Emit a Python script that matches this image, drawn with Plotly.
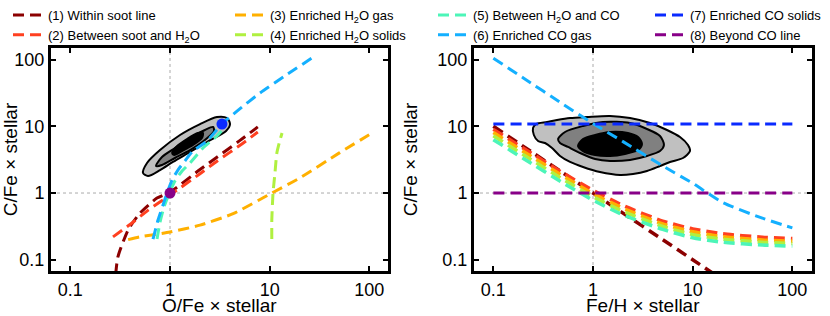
import plotly.graph_objects as go

# ---------------- data ----------------
TICK_VALS = [0.1, 1, 10, 100]
TICK_TEXT = ["0.1", "1", "10", "100"]
X_TITLES = ["O/Fe × stellar", "Fe/H × stellar"]
Y_TITLE = "C/Fe × stellar"

NAMES = ["(1) Within soot line", "(2) Between soot and H<sub>2</sub>O",
         "(3) Enriched H<sub>2</sub>O gas", "(4) Enriched H<sub>2</sub>O solids",
         "(5) Between H<sub>2</sub>O and CO", "(6) Enriched CO gas",
         "(7) Enriched CO solids", "(8) Beyond CO line"]
COLORS = ["#8B0000", "#FF4020", "#FFB000", "#B0F040",
          "#4CF5B8", "#14B0FF", "#0A2AFF", "#880088"]

# Left panel: O/Fe vs C/Fe
L1_x = [0.285, 0.30, 0.38, 0.50, 0.74, 1.0, 2.0, 3.0, 5.0, 7.6]
L1_y = [0.06, 0.11, 0.28, 0.50, 0.84, 1.03, 2.25, 3.5, 6.1, 9.8]
L2_x = [0.268, 0.4, 0.6, 1.0, 2.0, 3.0, 5.0, 7.6]
L2_y = [0.22, 0.34, 0.55, 0.93, 1.95, 3.05, 5.15, 8.2]
L3_x = [0.38, 0.5, 1.0, 2.0, 4.3, 10.5, 20, 50, 106]
L3_y = [0.20, 0.22, 0.26, 0.33, 0.49, 1.0, 1.68, 4.0, 7.9]
L4_x = [10.5, 10.5, 10.8, 11.3, 11.8, 12.7, 13.3]
L4_y = [0.204, 0.394, 1.0, 2.0, 3.98, 6.23, 7.94]
L5_x = [0.741, 0.794, 0.871, 0.977, 1.12, 1.32, 1.59, 2.14, 2.96, 3.48]
L5_y = [0.204, 0.367, 0.617, 0.966, 1.51, 2.14, 2.82, 4.73, 7.16, 9.44]
L6_x = [0.675, 0.758, 0.851, 0.933, 1.05, 1.20, 1.41, 1.70, 2.35, 3.32, 4.70, 8.0, 14.2, 26.6]
L6_y = [0.204, 0.394, 0.661, 1.0, 1.57, 2.21, 3.02, 4.26, 6.02, 10.8, 16.9, 31.6, 56.8, 106]
PT7 = (3.32, 10.8)
PT8 = (1.0, 1.0)

# Left panel contours
LO_x = [0.536, 0.588, 0.794, 1.26, 2.0, 2.96, 3.73, 4.0, 3.65, 2.35, 1.59, 1.07, 0.794, 0.601, 0.536]
LO_y = [2.0, 2.82, 4.41, 7.41, 10.8, 13.8, 13.3, 10.8, 8.5, 5.82, 4.12, 2.92, 2.21, 1.80, 2.0]
LM_x = [0.724, 0.831, 1.12, 1.59, 2.24, 2.70, 2.76, 2.24, 1.59, 1.12, 0.831, 0.724]
LM_y = [2.54, 3.47, 4.73, 6.68, 8.81, 9.77, 8.5, 6.23, 4.41, 3.35, 2.63, 2.54]
LI_x = [1.05, 1.18, 1.48, 1.91, 2.14, 2.09, 1.70, 1.32, 1.10, 1.05]
LI_y = [3.98, 5.07, 6.45, 7.94, 7.94, 6.68, 5.25, 4.26, 3.71, 3.98]

# Right panel: Fe/H vs C/Fe
FEH = [0.1, 0.2, 0.5, 1, 2, 5, 10, 20, 50, 100]
R1_x = [0.1, 0.2, 0.5, 1, 2, 5, 10, 20]
R1_y = [10, 5, 2, 1, 0.5, 0.2, 0.1, 0.05]
R2_y = [9.0, 4.7, 2.0, 1.1, 0.65, 0.38, 0.29, 0.245, 0.218, 0.208]
R3_y = [8.1, 4.2, 1.8, 0.98, 0.59, 0.345, 0.262, 0.222, 0.198, 0.19]
R4_y = [7.2, 3.75, 1.6, 0.88, 0.53, 0.315, 0.238, 0.203, 0.183, 0.175]
R5_y = [6.3, 3.3, 1.42, 0.78, 0.47, 0.285, 0.213, 0.183, 0.166, 0.16]
R6_y = [105, 53, 21.5, 11, 5.9, 2.55, 1.40, 0.72, 0.42, 0.30]
R7_y = [10.8, 10.8, 10.8, 10.8, 10.8, 10.8, 10.8, 10.8, 10.8, 10.8]
R8_y = [1, 1, 1, 1, 1, 1, 1, 1, 1, 1]

# Right panel contours
RO_x = [0.25, 0.268, 0.346, 0.435, 0.588, 0.871, 1.48, 2.35, 3.73, 5.52, 7.46, 8.97, 9.4, 8.0,
        5.92, 4.70, 3.48, 2.52, 1.87, 1.175, 0.794, 0.588, 0.467, 0.388, 0.330, 0.281, 0.255, 0.25]
RO_y = [9.4, 10.8, 11.6, 12.4, 13.3, 13.8, 14.3, 13.3, 11.2, 8.8, 6.91, 5.25, 4.26, 3.35,
        2.92, 2.54, 2.14, 1.93, 1.86, 2.06, 2.45, 2.92, 3.59, 4.73, 5.62, 6.02, 7.41, 9.4]
RM_x = [0.446, 0.524, 0.794, 1.26, 2.35, 3.48, 4.70, 5.15, 4.70, 3.48, 2.35, 1.48, 1.05, 0.741,
        0.561, 0.467, 0.446]
RM_y = [6.45, 8.22, 10.1, 11.6, 11.2, 9.11, 7.16, 5.25, 4.26, 3.59, 3.13, 3.02, 3.24, 3.98,
        4.9, 5.62, 6.45]
RI_x = [0.707, 0.794, 1.05, 1.48, 2.24, 2.83, 3.10, 2.83, 2.09, 1.48, 1.05, 0.794, 0.707]
RI_y = [5.07, 6.45, 7.41, 8.22, 7.94, 6.91, 5.43, 4.41, 3.85, 3.59, 3.71, 4.26, 5.07]

CONTOUR_FILLS = ["#C0C0C0", "#808080", "#000000"]

# ---------------- figure ----------------
FONT = "Liberation Sans, Arial, Helvetica, sans-serif"
DASH = "11px,6px"
fig = go.Figure()

for cx, cy, fc in [(LO_x, LO_y, CONTOUR_FILLS[0]), (LM_x, LM_y, CONTOUR_FILLS[1]), (LI_x, LI_y, CONTOUR_FILLS[2])]:
    fig.add_trace(go.Scatter(x=cx, y=cy, mode="lines", fill="toself", fillcolor=fc,
                             line=dict(color="black", width=2, shape="spline", smoothing=0.8),
                             showlegend=False, hoverinfo="skip", xaxis="x", yaxis="y"))
for cx, cy, fc in [(RO_x, RO_y, CONTOUR_FILLS[0]), (RM_x, RM_y, CONTOUR_FILLS[1]), (RI_x, RI_y, CONTOUR_FILLS[2])]:
    fig.add_trace(go.Scatter(x=cx, y=cy, mode="lines", fill="toself", fillcolor=fc,
                             line=dict(color="black", width=2, shape="spline", smoothing=0.8),
                             showlegend=False, hoverinfo="skip", xaxis="x2", yaxis="y2"))

legend_of = ["legend", "legend", "legend2", "legend2", "legend3", "legend3", "legend4", "legend4"]

left_series = [(L1_x, L1_y), (L2_x, L2_y), (L3_x, L3_y), (L4_x, L4_y), (L5_x, L5_y), (L6_x, L6_y)]
for i, (sx, sy) in enumerate(left_series):
    fig.add_trace(go.Scatter(x=sx, y=sy, mode="lines", name=NAMES[i],
                             line=dict(color=COLORS[i], width=3, dash=DASH, shape="spline", smoothing=0.6),
                             legend=legend_of[i], showlegend=True, xaxis="x", yaxis="y"))

fig.add_trace(go.Scatter(x=[PT7[0]], y=[PT7[1]], mode="markers", marker=dict(color=COLORS[6], size=11),
                         showlegend=False, xaxis="x", yaxis="y"))
fig.add_trace(go.Scatter(x=[PT8[0]], y=[PT8[1]], mode="markers", marker=dict(color=COLORS[7], size=11),
                         showlegend=False, xaxis="x", yaxis="y"))

right_series = [(R1_x, R1_y), (FEH, R2_y), (FEH, R3_y), (FEH, R4_y), (FEH, R5_y),
                (FEH, R6_y), (FEH, R7_y), (FEH, R8_y)]
for i, (sx, sy) in enumerate(right_series):
    show = i >= 6
    fig.add_trace(go.Scatter(x=sx, y=sy, mode="lines", name=NAMES[i],
                             line=dict(color=COLORS[i], width=3.5 if i < 5 else 3, dash=DASH,
                                       shape="spline", smoothing=0.6),
                             legend=legend_of[i], showlegend=show, xaxis="x2", yaxis="y2"))

axis_common = dict(type="log", showline=True, linewidth=3, linecolor="black", mirror="allticks",
                   ticks="inside", ticklen=5, tickwidth=2, tickcolor="black",
                   tickvals=TICK_VALS, ticktext=TICK_TEXT, showgrid=False, zeroline=False,
                   tickfont=dict(size=18, color="black", family=FONT), automargin=False)

XDOM1 = [0.06145, 0.46747]
XDOM2 = [0.57108, 0.97831]
fig.update_layout(
    width=830, height=316, margin=dict(l=0, r=0, t=0, b=0, autoexpand=False),
    paper_bgcolor="white", plot_bgcolor="white",
    font=dict(family=FONT, color="black"),
    xaxis=dict(**axis_common, domain=XDOM1, range=[-1.194, 2.187]),
    yaxis=dict(**axis_common, domain=[0.14241, 0.84810], range=[-1.169, 2.174],
               title=dict(text=Y_TITLE, font=dict(size=19))),
    xaxis2=dict(**axis_common, domain=XDOM2, range=[-1.194, 2.197], anchor="y2"),
    yaxis2=dict(**axis_common, domain=[0.14241, 0.84810], range=[-1.169, 2.174], anchor="x2",
                title=dict(text=Y_TITLE, font=dict(size=19))),
)

# x-axis titles as annotations (exact placement)
for dom, txt in zip([XDOM1, XDOM2], X_TITLES):
    fig.add_annotation(text=txt, xref="paper", yref="paper", x=(dom[0] + dom[1]) / 2, y=0,
                       xanchor="center", yanchor="bottom", yshift=-2, showarrow=False,
                       font=dict(size=19, family=FONT, color="black"))

leg_common = dict(orientation="v", yanchor="top", y=1.0, xanchor="left",
                  bgcolor="rgba(0,0,0,0)", borderwidth=0, tracegroupgap=0, itemwidth=30,
                  font=dict(size=13, family=FONT, color="black"))
fig.update_layout(
    legend=dict(**leg_common, x=8 / 830),
    legend2=dict(**leg_common, x=230 / 830),
    legend3=dict(**leg_common, x=433 / 830),
    legend4=dict(**leg_common, x=650 / 830),
)

# dotted reference lines at 1
for xr, yr in [("x", "y"), ("x2", "y2")]:
    fig.add_shape(type="line", xref=xr, yref=yr + " domain", x0=1, x1=1, y0=0, y1=1,
                  line=dict(color="#AAAAAA", width=1, dash="dot"), layer="below")
    fig.add_shape(type="line", xref=xr + " domain", yref=yr, x0=0, x1=1, y0=1, y1=1,
                  line=dict(color="#AAAAAA", width=1, dash="dot"), layer="below")

fig.write_html("out.html", config={"displayModeBar": False},
               post_script="document.body.style.margin='0';document.body.style.overflow='hidden';")
